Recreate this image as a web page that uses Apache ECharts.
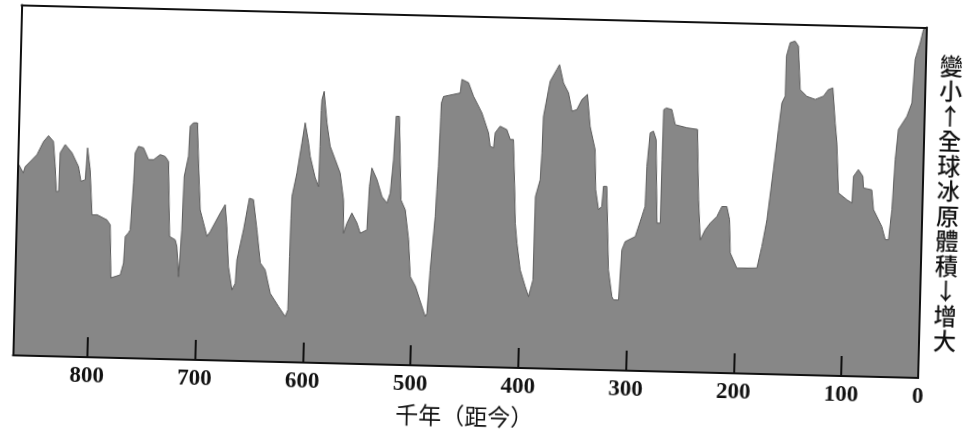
<!DOCTYPE html>
<html>
<head>
<meta charset="utf-8">
<title>全球冰原體積</title>
<script src="https://cdn.jsdelivr.net/npm/echarts@6/dist/echarts.min.js"></script>
<style>
  html, body { margin: 0; padding: 0; background: #fff; overflow: hidden; }
  /* the printed figure sits slightly tilted on the page */
  #chart { width: 964px; height: 434px; transform: rotate(1.43deg); transform-origin: 50% 50%; }
</style>
</head>
<body>
<div id="chart"></div>
<script>
// Age of each outline vertex, thousands of years before present (oldest first)
const ages = [
  869, 863.6, 861.9, 851.3, 845.5, 841.0, 836.3, 834.1, 832.6, 830.4,
  829.8, 825.3, 818.9, 812.5, 809.9, 805.9, 804.5, 803.4, 801.6, 798.9,
  794.2, 784.9, 781.7, 779.9, 771.3, 768.5, 767.5, 764.6, 763.1, 761.0,
  760.2, 757.3, 752.6, 747.7, 743.0, 737.0, 732.3, 729.1, 726.4, 721.1,
  719.4, 717.2, 715.8, 715.2, 714.2, 710.7, 709.8, 706.8, 703.1, 701.2,
  698.6, 695.2, 691.7, 688.8, 680.0, 675.5, 673.5, 671.1, 667.3, 664.4,
  663.4, 658.0, 653.2, 649.4, 645.5, 641.6, 637.0, 631.7, 623.7, 617.3,
  615.0, 614.6, 614.2, 613.8, 609.7, 605.8, 603.2, 599.6, 597.8, 592.7,
  589.4, 588.9, 588.6, 588.2, 586.3, 583.0, 579.5, 574.5, 569.6, 565.9,
  565.1, 562.1, 557.8, 552.9, 549.6, 543.5, 542.1, 540.3, 535.3, 530.3,
  525.5, 522.7, 520.4, 518.9, 515.9, 512.6, 508.4, 504.6, 502.2, 497.1,
  492.8, 487.4, 485.9, 483.9, 480.4, 479.5, 478.6, 477.9, 477.6, 477.3,
  475.5, 460.1, 458.8, 452.6, 447.7, 439.5, 432.9, 431.1, 427.9, 426.7,
  422.3, 416.0, 412.6, 409.6, 407.3, 406.0, 404.0, 400.4, 395.4, 392.0,
  388.3, 387.9, 383.9, 382.9, 382.3, 376.9, 371.0, 368.6, 364.5, 359.6,
  356.0, 351.5, 347.0, 342.0, 338.8, 333.6, 332.2, 329.1, 326.1, 325.0,
  321.9, 318.5, 314.7, 313.1, 308.4, 306.5, 303.6, 294.4, 288.7, 285.9,
  285.2, 282.9, 279.9, 277.2, 274.6, 271.5, 271.2, 270.9, 268.6, 263.4,
  259.9, 249.0, 239.1, 236.5, 234.0, 229.7, 225.1, 219.1, 214.7, 210.1,
  207.3, 205.9, 199.4, 180.8, 176.7, 172.6, 167.7, 164.0, 161.4, 158.5,
  158.3, 155.1, 150.6, 147.4, 144.8, 138.4, 130.6, 123.0, 118.6, 114.5,
  111.5, 109.5, 106.9, 98.9, 94.1, 93.3, 88.9, 84.6, 83.8, 76.0,
  74.0, 65.9, 62.4, 59.4, 56.9, 55.0, 52.7, 45.2, 40.8, 38.8,
  34.5, 31.8, 28.7
];

// Relative index: 0 = largest global ice volume, 100 = smallest
const iceIndex = [
  55.0, 52.1, 53.9, 57.4, 61.2, 62.9, 61.3, 54.1, 47.0, 47.1,
  58.1, 60.5, 58.2, 54.3, 50.1, 50.6, 59.7, 59.6, 53.5, 40.6,
  40.7, 39.3, 37.9, 22.8, 23.7, 27.1, 34.7, 35.8, 36.6, 50.0,
  58.6, 60.5, 60.1, 56.8, 56.8, 58.3, 57.8, 56.4, 35.0, 34.1,
  32.2, 23.6, 23.6, 37.0, 52.2, 58.0, 66.6, 67.6, 67.6, 56.2,
  42.8, 39.1, 35.3, 36.7, 42.0, 44.5, 38.3, 26.8, 20.2, 22.1,
  28.8, 37.4, 46.5, 46.1, 37.5, 28.1, 26.2, 19.5, 15.8, 13.0,
  14.9, 30.1, 41.0, 47.3, 54.0, 62.6, 68.4, 62.7, 58.9, 52.8,
  50.3, 61.8, 72.0, 75.1, 77.5, 68.5, 61.9, 58.1, 54.3, 46.7,
  37.2, 40.1, 43.0, 40.2, 37.3, 38.3, 50.7, 56.0, 52.7, 47.9,
  46.1, 49.0, 58.5, 70.9, 70.9, 47.1, 44.3, 35.8, 25.3, 22.5,
  18.7, 14.0, 14.9, 27.3, 42.6, 50.3, 56.9, 66.5, 71.0, 75.0,
  76.9, 78.0, 81.9, 81.0, 77.2, 72.5, 66.8, 63.0, 62.6, 66.9,
  68.8, 67.9, 65.1, 65.1, 50.8, 41.3, 35.6, 28.0, 23.3, 20.4,
  25.2, 49.0, 53.8, 61.5, 71.9, 82.0, 85.4, 86.8, 81.6, 78.8,
  73.6, 74.1, 77.0, 78.5, 69.4, 62.8, 51.4, 45.7, 46.7, 52.4,
  52.4, 28.6, 21.0, 20.1, 20.1, 34.4, 36.8, 38.3, 44.1, 47.0,
  58.4, 68.0, 68.5, 66.1, 42.3, 42.3, 60.4, 74.7, 75.2, 74.8,
  70.5, 69.7, 69.3, 49.3, 37.8, 40.7, 42.7, 44.6, 47.5, 47.5,
  43.8, 34.3, 30.0, 30.2, 36.4, 44.0, 58.4, 69.8, 77.5, 79.4,
  90.8, 94.7, 95.2, 93.8, 81.4, 79.5, 78.7, 79.7, 81.6, 82.1,
  72.1, 66.5, 52.2, 50.3, 49.4, 57.0, 59.0, 57.1, 53.8, 53.3,
  47.7, 42.9, 39.2, 39.2, 47.8, 62.1, 70.7, 74.5, 78.4, 90.8,
  95.6, 99.4, 100
];

// Tick positions along the time axis and the label at its young end
const tickAges = [800, 700, 600, 500, 400, 300, 200, 100];
const oldestAge = 869;
const presentEdge = 28.7;
const presentLabel = '0';

const xTitle = '千年（距今）';
const yTitleChars = ['變', '小', '↑', '全', '球', '冰', '原', '體', '積', '↓', '增', '大'];

const ink = '#111';
// frame sides stay on the plot edges instead of snapping to the zero line
const frameLine = { show: true, onZero: false, lineStyle: { color: ink, width: 2 } };
const cjkFont = '"Noto Sans CJK TC", "Noto Sans CJK SC", sans-serif';

const chart = echarts.init(document.getElementById('chart'), null, { renderer: 'canvas' });

chart.setOption({
  animation: false,
  backgroundColor: '#fff',
  grid: { left: 16.5, right: 42, top: 16.5, bottom: 67 },
  xAxis: [
    {
      type: 'value', inverse: true, min: presentEdge, max: oldestAge, z: 5,
      axisLine: frameLine,
      axisTick: {
        show: true, inside: true, length: 20, customValues: tickAges,
        lineStyle: { color: ink, width: 2 }
      },
      axisLabel: {
        customValues: tickAges.concat([presentEdge]),
        formatter: v => (v < 50 ? presentLabel : String(v)),
        margin: 8, color: ink, fontSize: 23, fontWeight: 'bold',
        fontFamily: '"Liberation Serif", "DejaVu Serif", serif'
      },
      splitLine: { show: false },
      name: xTitle, nameLocation: 'middle', nameGap: 38,
      nameTextStyle: { color: ink, fontSize: 23, fontFamily: cjkFont }
    },
    {
      type: 'value', inverse: true, min: presentEdge, max: oldestAge, position: 'top', z: 5,
      axisLine: frameLine, axisTick: { show: false }, axisLabel: { show: false },
      splitLine: { show: false }
    }
  ],
  yAxis: [
    {
      type: 'value', min: 0, max: 100, position: 'left', z: 5,
      axisLine: frameLine, axisTick: { show: false }, axisLabel: { show: false },
      splitLine: { show: false }
    },
    {
      type: 'value', min: 0, max: 100, position: 'right', z: 5,
      axisLine: frameLine, axisTick: { show: false }, axisLabel: { show: false },
      splitLine: { show: false },
      name: yTitleChars.join('\n'), nameLocation: 'middle', nameRotate: 0, nameGap: 14,
      nameTextStyle: {
        color: ink, fontSize: 23, lineHeight: 25, fontFamily: cjkFont, fontWeight: 500,
        align: 'left', verticalAlign: 'middle'
      }
    }
  ],
  series: [
    {
      type: 'line',
      xAxisIndex: 0, yAxisIndex: 0,
      data: ages.map((a, i) => [a, iceIndex[i]]),
      symbol: 'none',
      lineStyle: { color: '#5c5c5c', width: 1 },
      areaStyle: { color: '#878787', opacity: 1 },
      z: 2
    }
  ]
});
</script>
</body>
</html>
